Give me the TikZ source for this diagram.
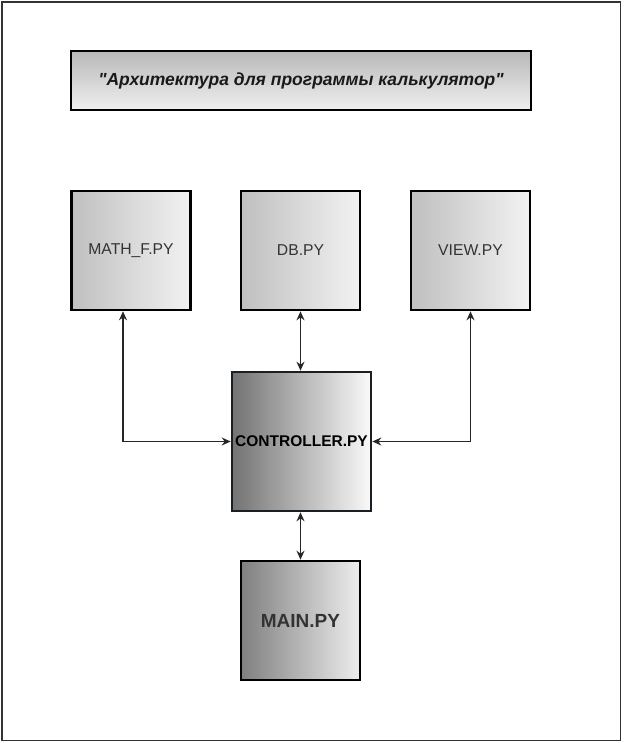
\documentclass[tikz,border=0pt]{standalone}
\usepackage{fontspec}
\setmainfont{Liberation Sans}[Ligatures=TeXOff]
\usetikzlibrary{arrows.meta}
\definecolor{frameC}{HTML}{333333}
\definecolor{txtC}{HTML}{333333}
\definecolor{ctrlB}{HTML}{1A1F24}
\begin{document}
\begin{tikzpicture}[x=1pt,y=-1pt,
  filebox/.style={draw=black, line width=2.6pt, rectangle, inner sep=0pt,
    minimum width=119pt, minimum height=119pt, shading=axis,
    left color=black!25, right color=black!5, shading angle=90,
    text=txtC, font=\fontsize{15.7}{18}\selectfont},
  link/.style={line width=1.6pt, draw=black!85, {Stealth[length=9pt,width=8pt]}-{Stealth[length=9pt,width=8pt]}}
]
\useasboundingbox (0,0) rectangle (623,743);
\draw[frameC, line width=1.6pt] (2,2) rectangle (620.5,740.5);
\node[draw=black, line width=2.6pt, rectangle, inner sep=0pt,
  minimum width=460pt, minimum height=59pt,
  top color=black!28, bottom color=black!6,
  font=\fontsize{17.5}{20}\selectfont\bfseries\itshape, text=black!90]
  (title) at (301,80.5) {"Архитектура для программы калькулятор"};
\node[filebox] (math) at (131,250.5) {MATH\_F.PY};
\node[filebox] (db) at (300.5,250.5) {DB.PY};
\node[filebox] (view) at (470.5,250.5) {VIEW.PY};
\node[filebox, draw=ctrlB, minimum width=139pt, minimum height=139pt,
  left color=black!55, right color=black!2, text=black,
  font=\fontsize{15.5}{18}\selectfont\bfseries] (ctrl) at (301.5,441.5) {CONTROLLER.PY};
\node[filebox, left color=black!50, right color=black!7,
  font=\fontsize{19}{22}\selectfont\bfseries] (main) at (300.5,620.5) {MAIN.PY};
\draw[link] ([xshift=-8pt]math.south) |- (ctrl.west);
\draw[link] (view.south) |- (ctrl.east);
\draw[link] (db.south) -- (db.south |- ctrl.north);
\draw[link] (ctrl.south -| main.north) -- (main.north);
\end{tikzpicture}
\end{document}
